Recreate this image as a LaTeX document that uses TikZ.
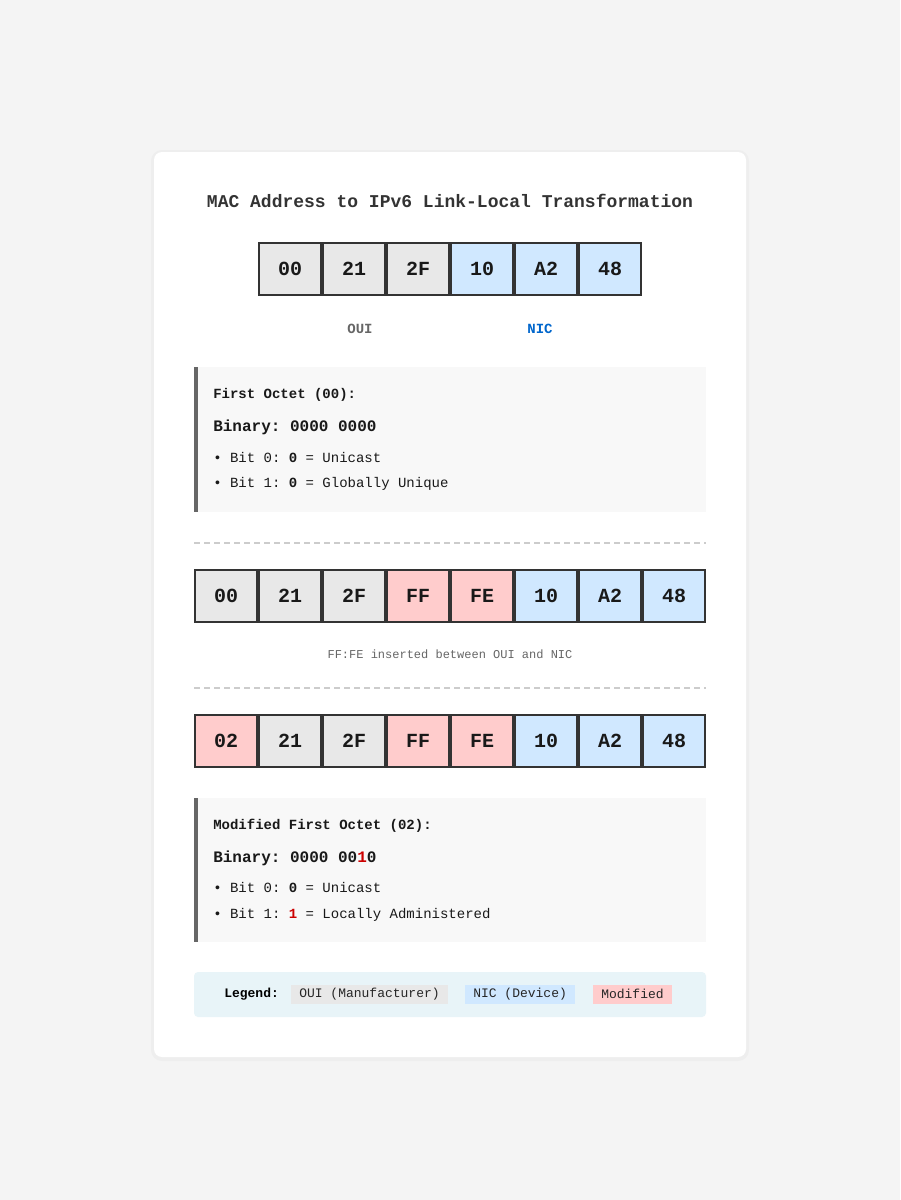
\documentclass[tikz,border=0pt]{standalone}
\usepackage{fontspec}
\setmainfont{Liberation Mono}
\frenchspacing
\definecolor{pagebg}{HTML}{F4F4F4}
\definecolor{ouigray}{HTML}{E8E8E8}
\definecolor{nicblue}{HTML}{D0E8FF}
\definecolor{modpink}{HTML}{FFCCCC}
\definecolor{cellline}{HTML}{333333}
\definecolor{boxbg}{HTML}{F8F8F8}
\definecolor{barline}{HTML}{666666}
\definecolor{legendbg}{HTML}{E8F4F8}
\definecolor{modred}{HTML}{CC0000}
\definecolor{nictext}{HTML}{0066CC}
\definecolor{dashgray}{HTML}{CCCCCC}
\tikzset{
	cell/.style={draw=cellline, line width=1.5pt, minimum width=46.5pt, minimum height=39pt, inner sep=0pt, text=black!90, font=\fontsize{15}{18}\selectfont\bfseries},
	infotext/.style={anchor=base west, inner sep=0pt, text=black!90, font=\fontsize{10.5}{12}\selectfont},
	sep/.style={dashgray, line width=1.5pt, dash pattern=on 4.5pt off 3pt},
	legitem/.style={anchor=west, inner xsep=6pt, inner ysep=0pt, minimum height=14.25pt, text=black!85, font=\fontsize{9.75}{11}\selectfont}
}
\begin{document}
\begin{tikzpicture}[x=0.75pt, y=-0.75pt]
	% page and card
	\fill[pagebg] (0,0) rectangle (900,1200);
	\fill[black, opacity=0.025, rounded corners=8pt] (151,150) rectangle (749,1061);
	\fill[white, rounded corners=6pt] (154,152) rectangle (746,1057);
	\node (title) at (450,201) [text=black!80, font=\fontsize{13.5}{16}\selectfont\bfseries]{MAC Address to IPv6 Link-Local Transformation};
	% original MAC
	\foreach \t/\c [count=\i from 0] in {00/ouigray,21/ouigray,2F/ouigray,10/nicblue,A2/nicblue,48/nicblue}
	{
		\node (mac\i) at (290+64*\i,268.5) [cell, fill=\c]{\t};
	}
	\node (oui) at (360,328.5) [text=barline, font=\fontsize{10.5}{12}\selectfont\bfseries]{OUI};
	\node (nic) at (540,328.5) [text=nictext, font=\fontsize{10.5}{12}\selectfont\bfseries]{NIC};
	% first octet box
	\fill[boxbg] (194,367) rectangle (706,512);
	\fill[barline] (194,367) rectangle (198,512);
	\node (oct1) at (213,398) [infotext]{\bfseries First Octet (00):};
	\node (bin1) at (213,431) [infotext, font=\fontsize{12}{14}\selectfont\bfseries]{Binary: 0000 0000};
	\node (b1a) at (213,462) [infotext]{• Bit 0: \textbf{0} = Unicast};
	\node (b1b) at (213,487) [infotext]{• Bit 1: \textbf{0} = Globally Unique};
	\draw[sep] (194,543) -- (706,543);
	% FF:FE inserted
	\foreach \t/\c [count=\i from 0] in {00/ouigray,21/ouigray,2F/ouigray,FF/modpink,FE/modpink,10/nicblue,A2/nicblue,48/nicblue}
	{
		\node (eui\i) at (226+64*\i,595.5) [cell, fill=\c]{\t};
	}
	\node (note) at (450,654.5) [text=barline, font=\fontsize{9}{11}\selectfont]{FF:FE inserted between OUI and NIC};
	\draw[sep] (194,688) -- (706,688);
	% bit flipped
	\foreach \t/\c [count=\i from 0] in {02/modpink,21/ouigray,2F/ouigray,FF/modpink,FE/modpink,10/nicblue,A2/nicblue,48/nicblue}
	{
		\node (mod\i) at (226+64*\i,740.5) [cell, fill=\c]{\t};
	}
	% modified octet box
	\fill[boxbg] (194,798) rectangle (706,942);
	\fill[barline] (194,798) rectangle (198,942);
	\node (oct2) at (213,829) [infotext]{\bfseries Modified First Octet (02):};
	\node (bin2) at (213,862) [infotext, font=\fontsize{12}{14}\selectfont\bfseries]{Binary: 0000 00\textcolor{modred}{1}0};
	\node (b2a) at (213,892) [infotext]{• Bit 0: \textbf{0} = Unicast};
	\node (b2b) at (213,918) [infotext]{• Bit 1: \textbf{\textcolor{modred}{1}} = Locally Administered};
	% legend
	\fill[legendbg, rounded corners=3pt] (194,972) rectangle (706,1017);
	\node (leg) at (224,994) [anchor=west, inner sep=0pt, font=\fontsize{9.75}{11}\selectfont\bfseries]{Legend:};
	\node (legoui) at (291,994) [legitem, fill=ouigray]{OUI (Manufacturer)};
	\node (legnic) at (465,994) [legitem, fill=nicblue]{NIC (Device)};
	\node (legmod) at (593,994) [legitem, fill=modpink]{Modified};
\end{tikzpicture}
\end{document}
